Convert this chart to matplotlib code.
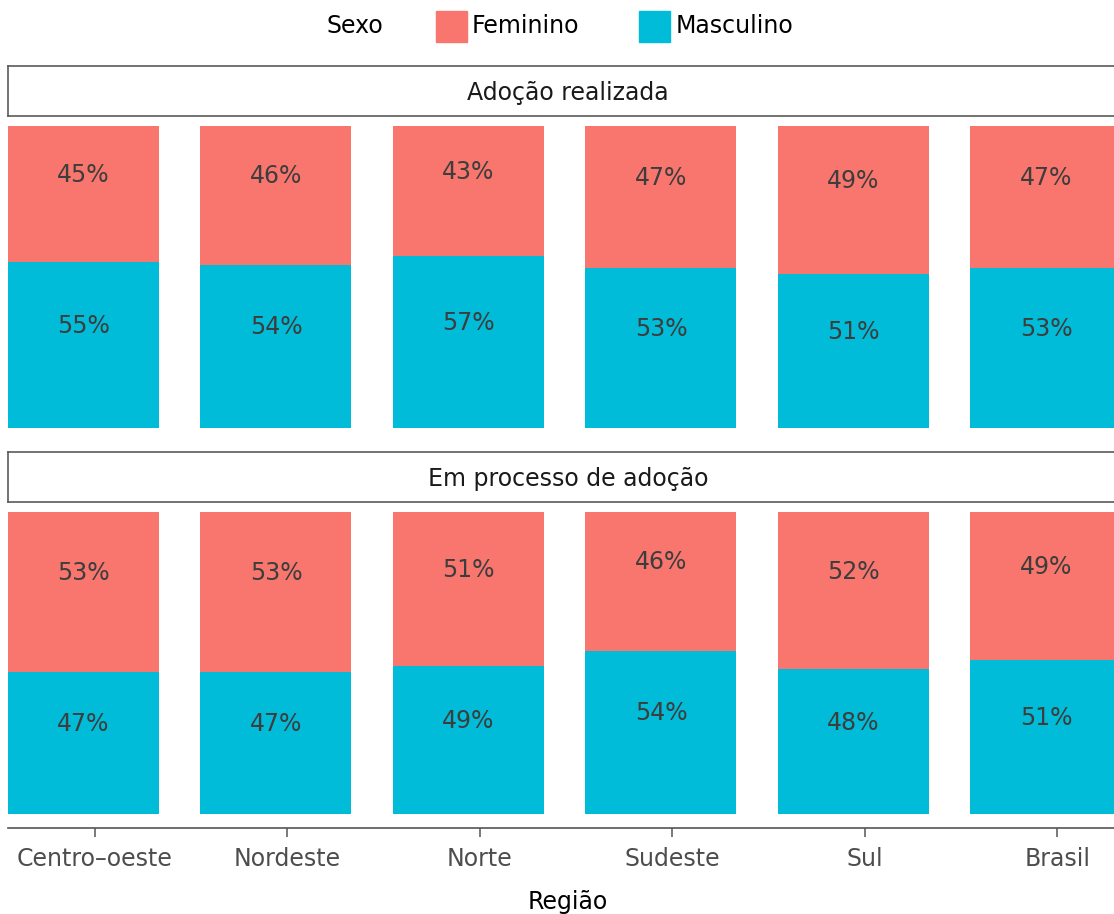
import matplotlib.pyplot as plt
from matplotlib.patches import Rectangle
import numpy as np

plt.rcParams['font.family'] = ['DejaVu Sans']

# dados
regioes = ['Centro–oeste', 'Nordeste', 'Norte', 'Sudeste', 'Sul', 'Brasil']
fem_realizada = [45, 46, 43, 47, 49, 47]
masc_realizada = [55, 54, 57, 53, 51, 53]
fem_processo = [53, 53, 51, 46, 52, 49]
masc_processo = [47, 47, 49, 54, 48, 51]
paineis = ['Adoção realizada', 'Em processo de adoção']

cor_fem = '#F8766D'
cor_masc = '#00BCD8'
cor_txt = '#3d3d3d'
cor_eixo = '#555555'
fs = 17

W, H = 1114, 914
fig = plt.figure(figsize=(W / 100, H / 100), dpi=100)


# caixa em pixels -> coordenadas da figura
def box(x0, y0, x1, y1):
    return [x0 / W, 1 - y1 / H, (x1 - x0) / W, (y1 - y0) / H]


x = np.arange(len(regioes))
desloc = -0.06
larg = 0.784
px = 3.02  # pixels por ponto percentual

dados = [(fem_realizada, masc_realizada), (fem_processo, masc_processo)]
caixas = [(116, 442), (502, 828)]
strips = [(66, 116), (452, 502)]

for k, (fem, masc) in enumerate(dados):
    top, bot = caixas[k]
    ax = fig.add_axes(box(8, top, 1128, bot))
    ax.bar(x + desloc, masc, width=larg, color=cor_masc)
    ax.bar(x + desloc, fem, width=larg, bottom=masc, color=cor_fem)
    for i in range(len(regioes)):
        ax.text(x[i] + desloc, masc[i] / 2 + 19 / px, f'{masc[i]}%',
                ha='center', va='center', fontsize=fs, color=cor_txt)
        ax.text(x[i] + desloc, masc[i] + fem[i] / 2 + 19 / px, f'{fem[i]}%',
                ha='center', va='center', fontsize=fs, color=cor_txt)
    ax.set_xlim(-87 / 192.5, (1128 - 95) / 192.5)
    ax.set_ylim(-14 / px, 100 + 10 / px)
    ax.set_yticks([])
    for s in ['top', 'left', 'right']:
        ax.spines[s].set_visible(False)
    if k == 0:
        ax.spines['bottom'].set_visible(False)
        ax.set_xticks([])
    else:
        ax.spines['bottom'].set_color(cor_eixo)
        ax.spines['bottom'].set_linewidth(1.2)
        ax.set_xticks(x)
        ax.set_xticklabels(regioes, fontsize=fs, color='#4d4d4d')
        ax.tick_params(axis='x', length=6.5, width=1.1, color=cor_eixo, pad=7)
        ax.set_xlabel('Região', fontsize=fs, color='black', labelpad=14)

    # faixa do título do painel
    s0, s1 = strips[k]
    st = fig.add_axes(box(8, s0, 1128, s1))
    st.set_xticks([])
    st.set_yticks([])
    for s in st.spines.values():
        s.set_color('#5a5a5a')
        s.set_linewidth(1.2)
    st.text(0.5, 0.46, paineis[k], ha='center', va='center',
            fontsize=fs, color='#1a1a1a', transform=st.transAxes)

# legenda
fig.text(326 / W, 1 - 26 / H, 'Sexo', ha='left', va='center', fontsize=fs)
fig.patches.append(Rectangle((436 / W, 1 - 42 / H), 31 / W, 31 / H,
                             color=cor_fem, transform=fig.transFigure))
fig.text(472 / W, 1 - 26 / H, 'Feminino', ha='left', va='center', fontsize=fs)
fig.patches.append(Rectangle((639 / W, 1 - 42 / H), 31 / W, 31 / H,
                             color=cor_masc, transform=fig.transFigure))
fig.text(676 / W, 1 - 26 / H, 'Masculino', ha='left', va='center', fontsize=fs)

fig.savefig('out.png', dpi=100)
